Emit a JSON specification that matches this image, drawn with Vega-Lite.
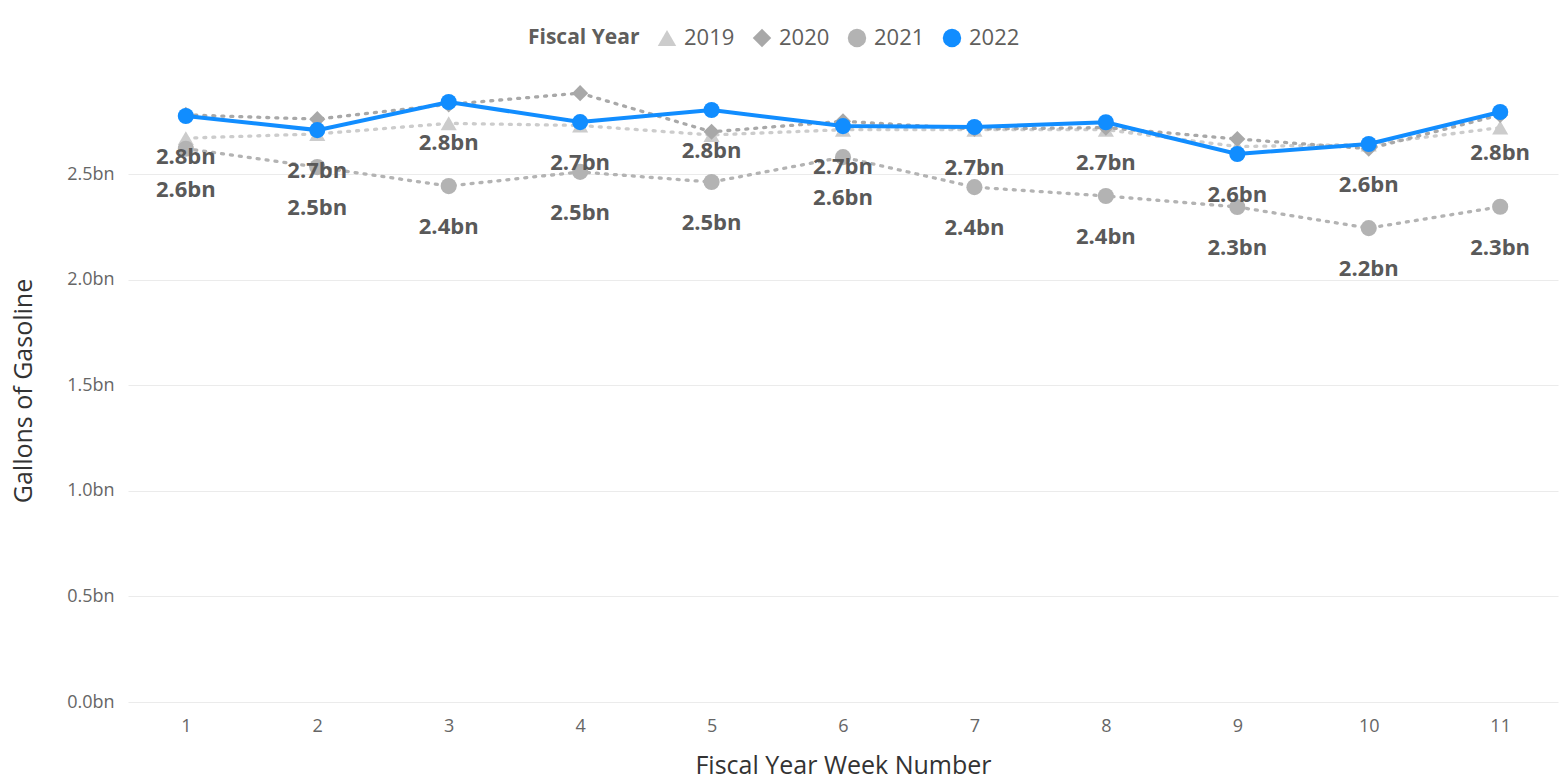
{
  "$schema": "https://vega.github.io/schema/vega-lite/v6.json",
  "autosize": {"type": "none"},
  "padding": {"left": 128, "top": 79, "right": 3, "bottom": 79},
  "width": 1430,
  "height": 623,
  "background": "white",
  "config": {
    "font": "Open Sans",
    "view": {"stroke": null},
    "axis": {"domain": false, "ticks": false, "labelColor": "#666666", "labelFontSize": 18, "titleColor": "#333333", "titleFontSize": 25, "titleFontWeight": "normal", "gridColor": "#EBEBEB", "gridWidth": 1},
    "legend": {"orient": "none", "legendX": 400, "legendY": -52, "direction": "horizontal", "titleOrient": "left", "titleFontSize": 21, "titleFontWeight": "bold", "titleColor": "#605E5C", "titleAnchor": "middle", "titleBaseline": "middle", "titlePadding": 16, "labelFontSize": 22, "labelColor": "#605E5C", "symbolSize": 340, "columnPadding": 16, "labelOffset": 6, "symbolStrokeWidth": 0}
  },
  "data": {
    "values": [
      {"week": 1, "year": "2019", "v": 2.67},
      {"week": 2, "year": "2019", "v": 2.69},
      {"week": 3, "year": "2019", "v": 2.74},
      {"week": 4, "year": "2019", "v": 2.73},
      {"week": 5, "year": "2019", "v": 2.685},
      {"week": 6, "year": "2019", "v": 2.71},
      {"week": 7, "year": "2019", "v": 2.71},
      {"week": 8, "year": "2019", "v": 2.71},
      {"week": 9, "year": "2019", "v": 2.63},
      {"week": 10, "year": "2019", "v": 2.64},
      {"week": 11, "year": "2019", "v": 2.72},
      {"week": 1, "year": "2020", "v": 2.78},
      {"week": 2, "year": "2020", "v": 2.76},
      {"week": 3, "year": "2020", "v": 2.83},
      {"week": 4, "year": "2020", "v": 2.883},
      {"week": 5, "year": "2020", "v": 2.70},
      {"week": 6, "year": "2020", "v": 2.75},
      {"week": 7, "year": "2020", "v": 2.713},
      {"week": 8, "year": "2020", "v": 2.72},
      {"week": 9, "year": "2020", "v": 2.666},
      {"week": 10, "year": "2020", "v": 2.62},
      {"week": 11, "year": "2020", "v": 2.78},
      {"week": 1, "year": "2021", "v": 2.62},
      {"week": 2, "year": "2021", "v": 2.533},
      {"week": 3, "year": "2021", "v": 2.443},
      {"week": 4, "year": "2021", "v": 2.51},
      {"week": 5, "year": "2021", "v": 2.462},
      {"week": 6, "year": "2021", "v": 2.58},
      {"week": 7, "year": "2021", "v": 2.438},
      {"week": 8, "year": "2021", "v": 2.396},
      {"week": 9, "year": "2021", "v": 2.344},
      {"week": 10, "year": "2021", "v": 2.244},
      {"week": 11, "year": "2021", "v": 2.345},
      {"week": 1, "year": "2022", "v": 2.775},
      {"week": 2, "year": "2022", "v": 2.708},
      {"week": 3, "year": "2022", "v": 2.841},
      {"week": 4, "year": "2022", "v": 2.746},
      {"week": 5, "year": "2022", "v": 2.803},
      {"week": 6, "year": "2022", "v": 2.727},
      {"week": 7, "year": "2022", "v": 2.723},
      {"week": 8, "year": "2022", "v": 2.745},
      {"week": 9, "year": "2022", "v": 2.595},
      {"week": 10, "year": "2022", "v": 2.642},
      {"week": 11, "year": "2022", "v": 2.794}
    ]
  },
  "encoding": {
    "x": {"field": "week", "type": "ordinal", "scale": {"type": "point", "padding": 0.44}, "axis": {"labelAngle": 0, "labelPadding": 15, "title": "Fiscal Year Week Number", "titlePadding": 18, "grid": false}},
    "y": {"field": "v", "type": "quantitative", "scale": {"domain": [0, 2.95], "nice": false}, "axis": {"values": [0, 0.5, 1, 1.5, 2, 2.5], "labelExpr": "format(datum.value, '.1f') + 'bn'", "labelPadding": 14, "title": "Gallons of Gasoline", "titlePadding": 30}}
  },
  "layer": [
    {
      "transform": [{"filter": "datum.year == '2019'"}],
      "mark": {"type": "line", "strokeWidth": 3.3, "strokeDash": [2, 7], "strokeCap": "round", "color": "#CCCCCC"},
      "encoding": {}
    },
    {
      "transform": [{"filter": "datum.year == '2020'"}],
      "mark": {"type": "line", "strokeWidth": 3.3, "strokeDash": [2, 7], "strokeCap": "round", "color": "#A8A8A8"},
      "encoding": {}
    },
    {
      "transform": [{"filter": "datum.year == '2021'"}],
      "mark": {"type": "line", "strokeWidth": 3.3, "strokeDash": [2, 7], "strokeCap": "round", "color": "#B3B3B3"},
      "encoding": {}
    },
    {
      "transform": [{"filter": "datum.year != '2022'"}],
      "mark": {"type": "point", "filled": true, "opacity": 1, "size": 260},
      "encoding": {
        "color": {"field": "year", "type": "nominal", "title": "Fiscal Year", "scale": {"domain": ["2019", "2020", "2021", "2022"], "range": ["#CCCCCC", "#A8A8A8", "#B3B3B3", "#118DFF"]}},
        "shape": {"field": "year", "type": "nominal", "title": "Fiscal Year", "scale": {"domain": ["2019", "2020", "2021", "2022"], "range": ["triangle-up", "diamond", "circle", "circle"]}}
      }
    },
    {
      "transform": [{"filter": "datum.year == '2022'"}],
      "mark": {"type": "line", "strokeWidth": 4, "color": "#118DFF"},
      "encoding": {}
    },
    {
      "transform": [{"filter": "datum.year == '2022'"}],
      "mark": {"type": "point", "filled": true, "opacity": 1, "size": 260},
      "encoding": {
        "color": {"field": "year", "type": "nominal", "title": "Fiscal Year"},
        "shape": {"field": "year", "type": "nominal", "title": "Fiscal Year"}
      }
    },
    {
      "transform": [
        {"filter": "datum.year == '2021' || datum.year == '2022'"},
        {"calculate": "format(datum.v, '.1f') + 'bn'", "as": "label"}
      ],
      "mark": {"type": "text", "dy": 41, "fontSize": 22, "fontWeight": "bold", "color": "#595959", "baseline": "middle", "align": "center"},
      "encoding": {
        "text": {"field": "label", "type": "nominal"}
      }
    }
  ],
  "resolve": {"scale": {"color": "shared", "shape": "shared"}}
}
